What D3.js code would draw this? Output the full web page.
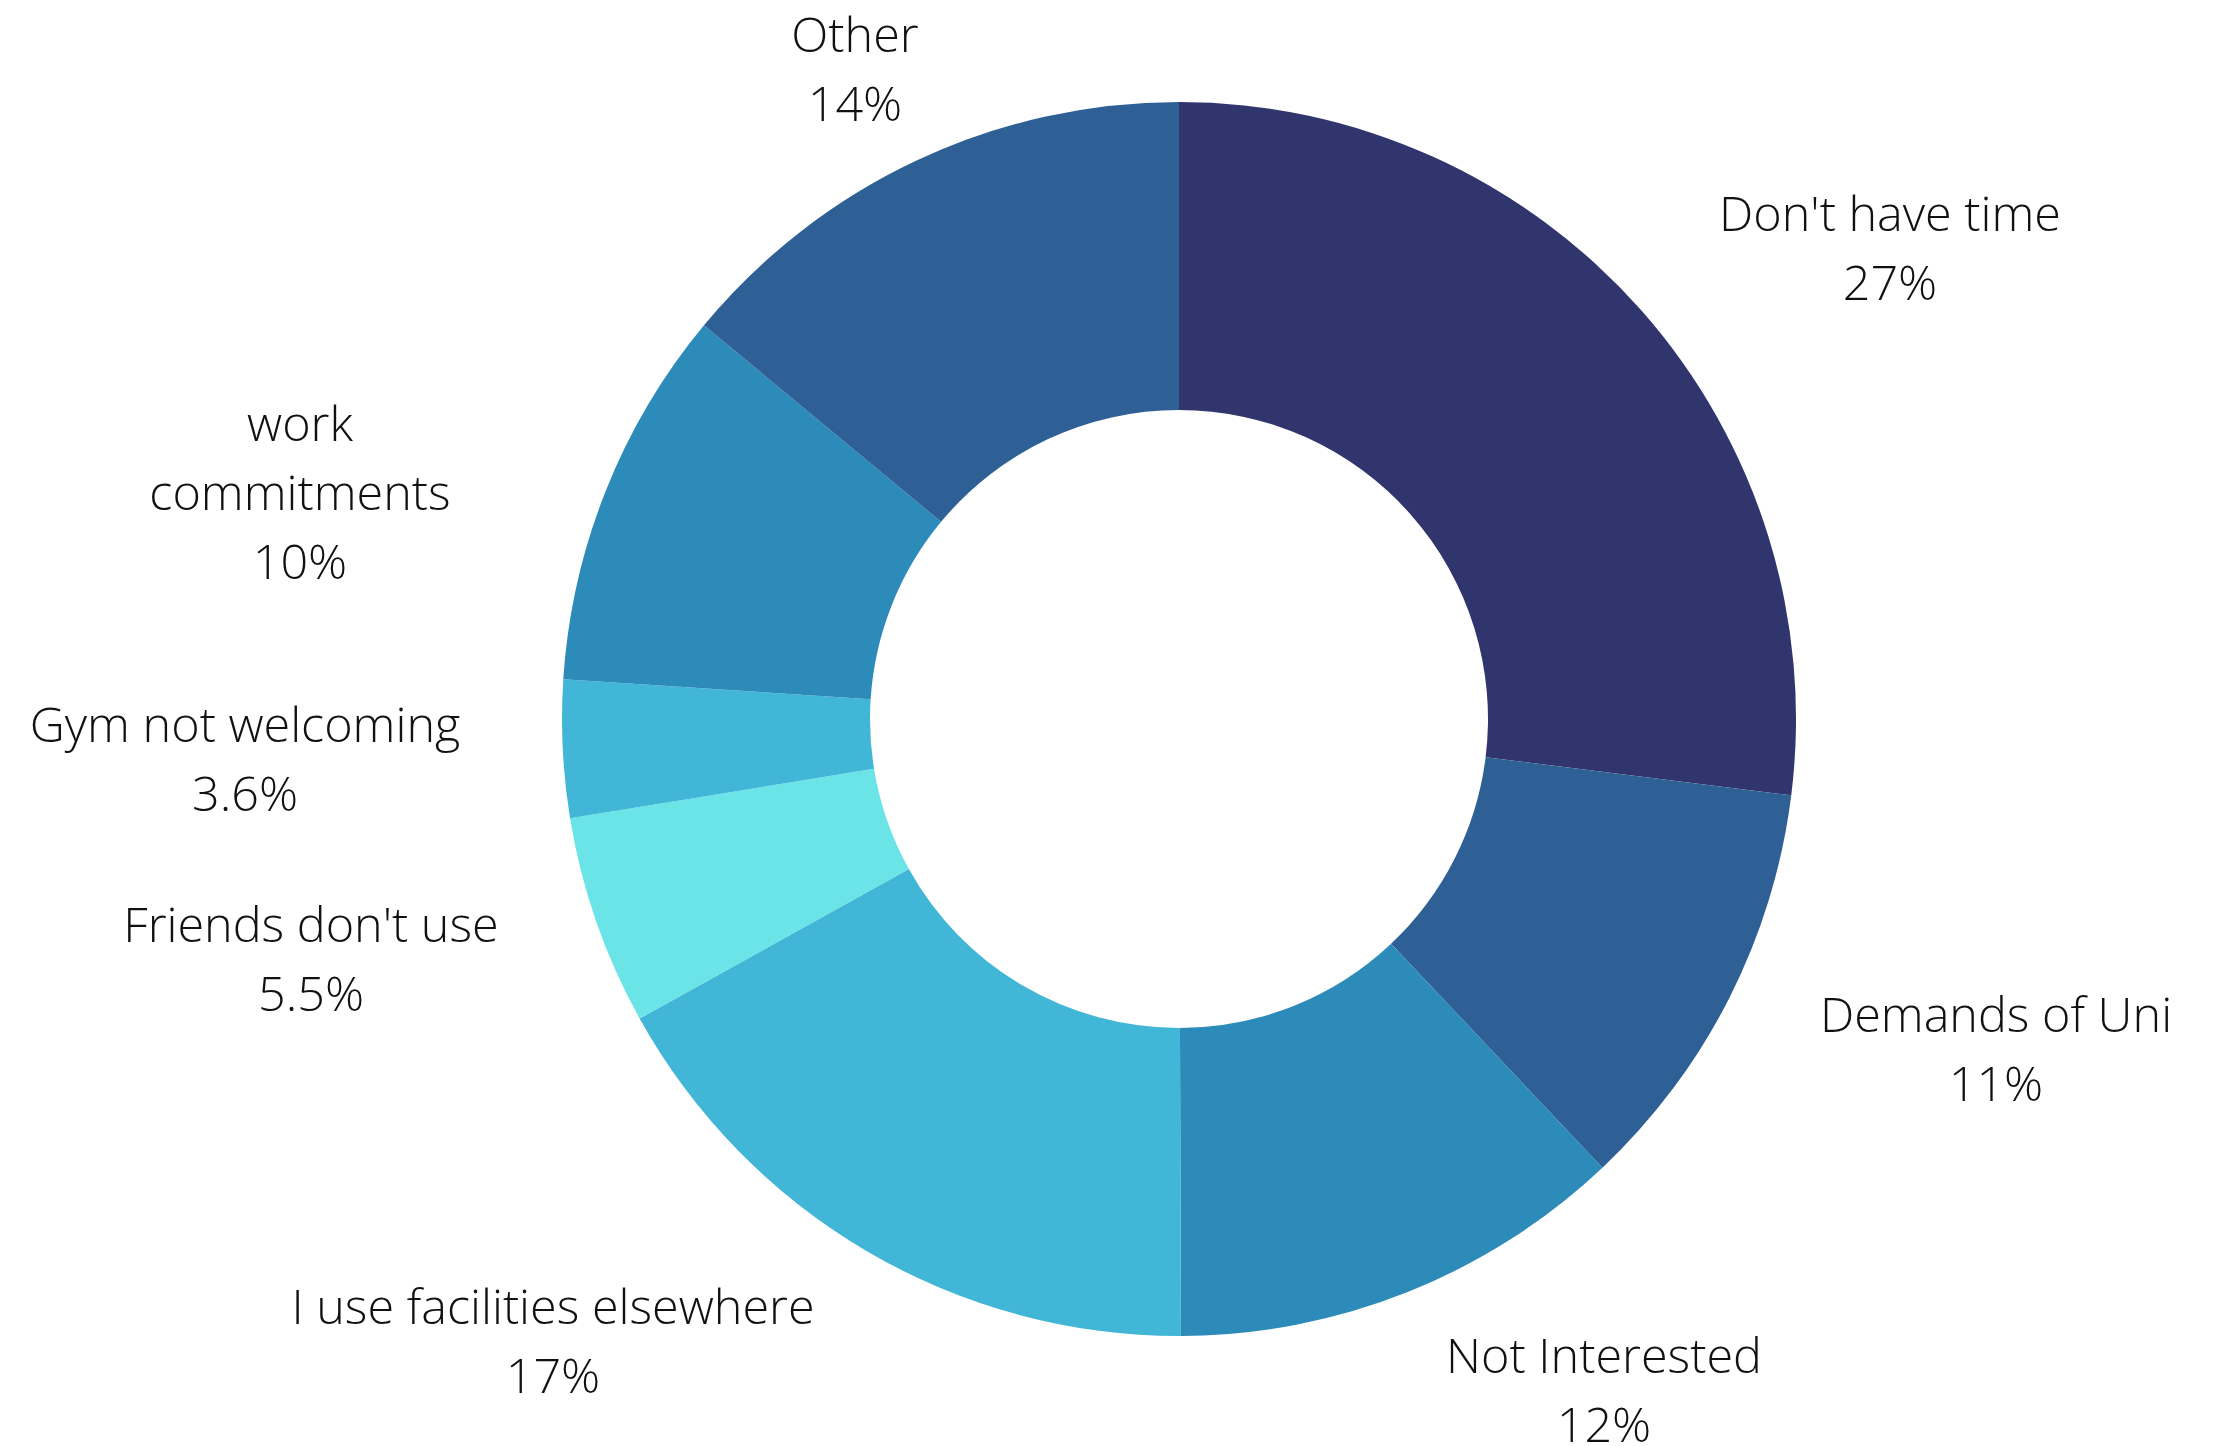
<!DOCTYPE html>
<html>
<head>
<meta charset="utf-8">
<script src="https://cdn.jsdelivr.net/npm/d3@7"></script>
<style>
  html, body { margin: 0; padding: 0; background: #ffffff; }
  svg { display: block; }
  text { font-family: "Open Sans", "Noto Sans", sans-serif; font-weight: 300; fill: #111111; }
</style>
</head>
<body>
<svg id="chart" width="2220" height="1446"></svg>
<script>
// Reasons for not using the campus gym (share of responses, %)
const categories = [
  "Don't have time",
  "Demands of Uni",
  "Not Interested",
  "I use facilities elsewhere",
  "Friends don't use",
  "Gym not welcoming",
  "work\ncommitments",
  "Other"
];
const values = [27, 11, 12, 17, 5.5, 3.6, 10, 14];
const colors = ["#31356e", "#2e6096", "#2d8bba", "#42b6d6", "#6be4e7", "#42b6d6", "#2d8bba", "#2e6096"];

// Layout
const width = 2220, height = 1446;
const cx = 1179, cy = 719;
const outerR = 617, innerR = 309;
const fontSize = 48.5, lineGap = 69;
// label anchor (centre x, first baseline) relative to the ring centre
const labelAt = [
  [711, -488], [817, 313], [425, 654], [-626, 605],
  [-868, 223], [-934, 23], [-879, -278], [-324, -667]
];

const svg = d3.select("#chart");
const g = svg.append("g").attr("transform", `translate(${cx},${cy})`);

const pie = d3.pie().sort(null).value(d => d.value).startAngle(0).endAngle(2 * Math.PI);
const arc = d3.arc().innerRadius(innerR).outerRadius(outerR);

const data = categories.map((c, i) => ({ name: c, value: values[i], color: colors[i] }));
const arcs = pie(data);

g.selectAll("path.slice")
  .data(arcs)
  .join("path")
  .attr("class", "slice")
  .attr("d", arc)
  .attr("fill", d => d.data.color);

const labels = g.selectAll("text.label")
  .data(arcs)
  .join("text")
  .attr("class", "label")
  .attr("text-anchor", "middle")
  .attr("font-size", fontSize)
  .attr("transform", (d, i) => `translate(${labelAt[i][0]},${labelAt[i][1]})`);

labels.each(function(d) {
  const lines = d.data.name.split("\n").concat([`${d.data.value}%`]);
  d3.select(this).selectAll("tspan")
    .data(lines)
    .join("tspan")
    .attr("x", 0)
    .attr("y", (l, j) => j * lineGap)
    .text(l => l);
});
</script>
</body>
</html>
